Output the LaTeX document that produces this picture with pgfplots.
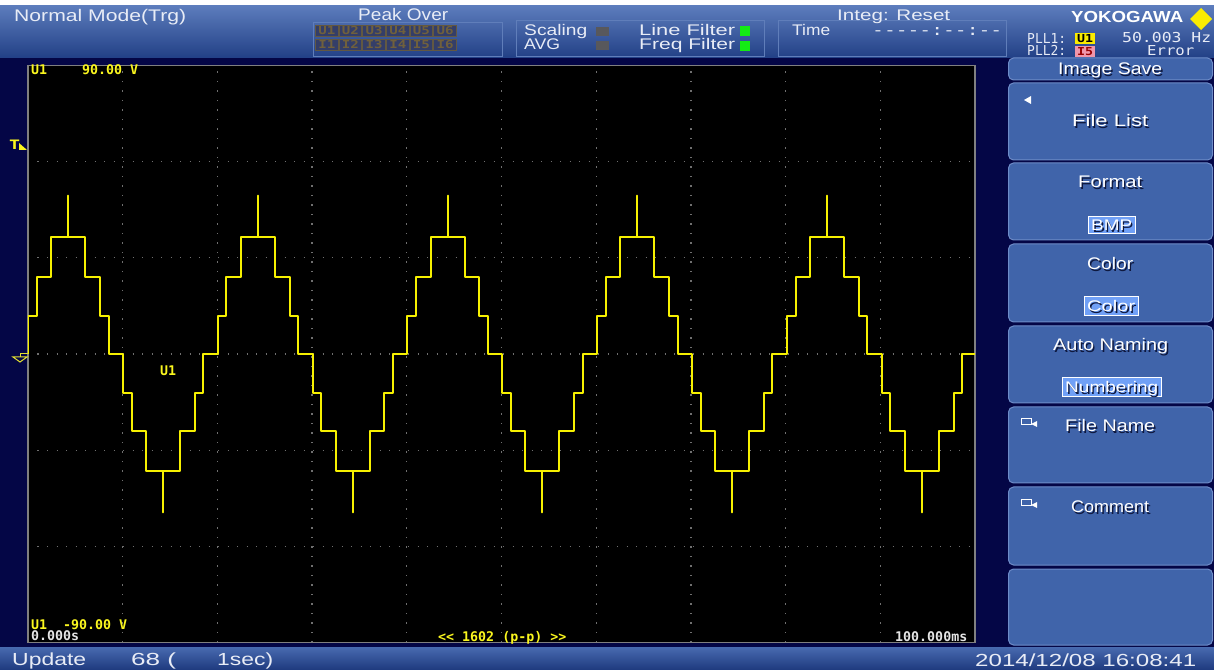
\documentclass[border=0pt]{standalone}
\usepackage{fontspec}
\setmainfont{Liberation Sans}
\newfontfamily\mono{DejaVu Sans Mono}
\usepackage{graphicx}
\usepackage{pgfplots}
\pgfplotsset{compat=1.18}

\definecolor{navy}{RGB}{4,6,70}
\definecolor{barTop}{RGB}{92,124,188}
\definecolor{barBot}{RGB}{34,64,134}
\definecolor{stTop}{RGB}{72,106,176}
\definecolor{stBot}{RGB}{32,60,128}
\definecolor{btnFill}{RGB}{64,100,170}
\definecolor{btnEdge}{RGB}{110,140,200}
\definecolor{valFill}{RGB}{112,160,246}
\definecolor{shadowC}{RGB}{14,24,62}
\definecolor{trace}{RGB}{246,240,0}
\definecolor{lblY}{RGB}{250,246,30}
\definecolor{lblW}{RGB}{228,228,228}
\definecolor{gridC}{RGB}{112,112,112}
\definecolor{frameC}{RGB}{128,128,128}
\definecolor{sepC}{RGB}{96,126,186}
\definecolor{indFill}{RGB}{52,62,104}
\definecolor{indEdge}{RGB}{98,88,66}
\definecolor{indText}{RGB}{112,96,60}
\definecolor{offC}{RGB}{88,88,92}
\definecolor{onC}{RGB}{20,235,20}
\definecolor{barText}{RGB}{232,236,246}
\definecolor{pllY}{RGB}{250,236,0}
\definecolor{pllP}{RGB}{240,150,170}

% text stretched to a given width: width, size, text
\newcommand\fw[3]{\resizebox{#1pt}{\height}{\fontsize{#2}{#2}\selectfont #3}}
% colour, x, baseline, width, size, text
\newcommand\txt[6]{\node[anchor=base west,inner sep=0pt,text=#1] at (#2,#3) {\fw{#4}{#5}{#6}};}
% white menu text with a drop shadow
\newcommand\btxt[5]{\txt{shadowC}{#1+1.4}{#2+1.4}{#3}{#4}{#5}\txt{white}{#1}{#2}{#3}{#4}{#5}}
% soft key frame
\newcommand\key[2]{\draw[btnEdge,fill=btnFill,line width=1pt,rounded corners=5pt] (1008.5,#1) rectangle (1212.5,#2);}
% selected value box
\newcommand\val[4]{\draw[white,fill=valFill,line width=1pt] (#1,#2) rectangle (#3,#4);}
% bold monospaced trace annotation
\newcommand\lab[4]{\node[anchor=base west,inner sep=0pt,text=#1] at (#2,#3) {\mono\bfseries\fontsize{13.3}{14}\selectfont #4};}

\begin{document}
\begin{tikzpicture}[x=1pt,y=1pt]
% screen background and bars
\fill[white] (0,0) rectangle (1214,669);
\fill[navy] (0,0) rectangle (1214,663);
\shade[top color=barTop,bottom color=barBot] (0,663) rectangle (1214,611);
\shade[top color=stTop,bottom color=stBot] (0,22) rectangle (1214,0);

\begin{scope}[yshift=669pt,yscale=-1]
  % status bar frames
  \draw[sepC,line width=0.8pt] (313,22) rectangle (502,56);
  \draw[sepC,line width=0.8pt] (516,20) rectangle (764,56);
  \draw[sepC,line width=0.8pt] (778,20) rectangle (1006,56);
  % status bar texts
  \txt{barText}{14}{22}{172}{16.8}{Normal Mode(Trg)}
  \txt{barText}{358}{21}{90}{16.8}{Peak Over}
  \foreach \i in {1,...,6}{
    \pgfmathsetmacro\xa{315+23.67*(\i-1)}
    \draw[indEdge,fill=indFill,line width=0.8pt] (\xa+0.5,25) rectangle (\xa+23,36);
    \draw[indEdge,fill=indFill,line width=0.8pt] (\xa+0.5,39) rectangle (\xa+23,50);
    \node[inner sep=0pt,text=indText] at (\xa+11.8,30.5) {\fw{17}{11}{\mono\bfseries U\i}};
    \node[inner sep=0pt,text=indText] at (\xa+11.8,44.5) {\fw{17}{11}{\mono\bfseries I\i}};
  }
  \txt{barText}{524}{36}{63}{15.4}{Scaling}
  \txt{barText}{524}{50}{36}{15.4}{AVG}
  \fill[offC] (596,27) rectangle (609,36);
  \fill[offC] (596,41) rectangle (609,50);
  \txt{barText}{639}{36}{96}{15.4}{Line Filter}
  \txt{barText}{639}{50}{96}{15.4}{Freq Filter}
  \fill[onC] (740,26) rectangle (750,36);
  \fill[onC] (740,41) rectangle (750,51);
  \txt{barText}{792}{36}{38}{15.4}{Time}
  \txt{barText}{837}{21}{113}{15.4}{Integ: Reset}
  \txt{barText}{872}{36}{130}{15.4}{\mono -\kern0pt-\kern0pt-\kern0pt-\kern0pt-:-\kern0pt-:-\kern0pt-}
  \txt{white}{1071}{23}{112}{16}{\bfseries YOKOGAWA}
  \fill[pllY] (1201,8) -- (1212,19) -- (1201,30) -- (1190,19) -- cycle;
  \txt{barText}{1027}{44}{39}{13.7}{\mono PLL1:}
  \txt{barText}{1027}{56}{39}{13.7}{\mono PLL2:}
  \fill[pllY] (1075,33) rectangle (1095,44);
  \fill[pllP] (1075,46) rectangle (1095,57);
  \node[inner sep=0pt,text=black] at (1085,38.5) {\fw{16}{11}{\mono\bfseries U1}};
  \node[inner sep=0pt,text=red!60!black] at (1085,51.5) {\fw{16}{11}{\mono\bfseries I5}};
  \txt{barText}{1122}{43}{89}{13.7}{\mono 50.003 Hz}
  \txt{barText}{1147}{56}{47}{13.7}{\mono Error}
  % bottom status line
  \txt{barText}{12}{665}{74}{17.5}{Update}
  \txt{barText}{131}{665}{45}{17.5}{68 (}
  \txt{barText}{217}{665}{56}{17.5}{1sec)}
  \txt{barText}{975}{666}{221}{17.5}{2014/12/08 16:08:41}
  % soft keys
  \key{58}{80}\key{83}{160}\key{163}{240}\key{244}{322}
  \key{326}{403}\key{407}{483}\key{487}{565}\key{569}{645}
  \btxt{1058}{75}{104}{16.8}{Image Save}
  \btxt{1072}{127}{76}{16.8}{File List}
  \fill[white] (1024,100) -- (1031,96) -- (1031,104) -- cycle;
  \btxt{1078}{188}{64}{16.8}{Format}
  \val{1088}{217}{1135}{234}
  \btxt{1091}{231}{41}{15.4}{BMP}
  \btxt{1087}{270}{46}{16.8}{Color}
  \val{1084}{297}{1138}{316}
  \btxt{1087}{312}{48}{15.4}{Color}
  \btxt{1053}{351}{115}{16.8}{Auto Naming}
  \val{1062}{378}{1161}{397}
  \btxt{1065}{393}{93}{15.4}{Numbering}
  \btxt{1065}{432}{90}{16.8}{File Name}
  \btxt{1071}{513}{78}{16.8}{Comment}
  \foreach \yy in {419,500}{
    \draw[white,line width=1pt] (1021,\yy) rectangle (1031,\yy+6);
    \fill[white] (1031,\yy+5) -- (1037,\yy+2) -- (1037,\yy+8) -- cycle;
  }
\end{scope}

% waveform window: 10 ms and 30 V per division
\begin{axis}[
  at={(28pt,26.3pt)}, anchor=south west,
  scale only axis, width=947pt, height=577.3pt,
  xmin=0, xmax=100, ymin=-90, ymax=90,
  xtick={0,10,...,100}, ytick={-90,-60,...,90},
  xticklabels={}, yticklabels={}, major tick length=0pt,
  grid=major,
  major grid style={draw=gridC, line width=1.3pt, dash pattern=on 1.3pt off 8.2pt},
  axis line style={draw=frameC, line width=1.4pt},
  axis background/.style={fill=black},
]
\addplot[const plot, draw=trace, line width=2pt, line join=round] coordinates {
  (0,0) (0,12) (0.93,24) (2.46,36.6) (4.26,49.4) (4.26,36.6) (6.06,24) (7.60,12) (8.52,0)
  (10.03,-12) (10.94,-24) (12.45,-36.6) (14.26,-49.4) (14.26,-36.6) (16.06,-24) (17.61,-12) (18.50,0)
  (20.03,12) (20.96,24) (22.49,36.6) (24.29,49.4) (24.29,36.6) (26.09,24) (27.63,12) (28.55,0)
  (30.06,-12) (30.97,-24) (32.48,-36.6) (34.29,-49.4) (34.29,-36.6) (36.09,-24) (37.64,-12) (38.53,0)
  (40.06,12) (40.99,24) (42.52,36.6) (44.32,49.4) (44.32,36.6) (46.12,24) (47.66,12) (48.58,0)
  (50.09,-12) (51.00,-24) (52.51,-36.6) (54.32,-49.4) (54.32,-36.6) (56.12,-24) (57.67,-12) (58.56,0)
  (60.09,12) (61.02,24) (62.55,36.6) (64.35,49.4) (64.35,36.6) (66.15,24) (67.69,12) (68.61,0)
  (70.12,-12) (71.03,-24) (72.54,-36.6) (74.35,-49.4) (74.35,-36.6) (76.15,-24) (77.70,-12) (78.59,0)
  (80.12,12) (81.05,24) (82.58,36.6) (84.38,49.4) (84.38,36.6) (86.18,24) (87.72,12) (88.64,0)
  (90.15,-12) (91.06,-24) (92.57,-36.6) (94.38,-49.4) (94.38,-36.6) (96.18,-24) (97.73,-12) (98.62,0)
  (100,0)
};
\end{axis}

\begin{scope}[yshift=669pt,yscale=-1]
  % scale and time annotations
  \lab{lblY}{31}{75}{U1}
  \lab{lblY}{82}{75}{90.00 V}
  \lab{lblY}{31}{629}{U1}
  \lab{lblY}{63}{629}{-90.00 V}
  \lab{lblW}{31}{640}{0.000s}
  \lab{lblY}{438}{641}{<\kern0pt< 1602 (p-p) >\kern0pt>}
  \lab{lblW}{895}{641}{100.000ms}
  \lab{lblY}{160}{376}{U1}
  % trigger level marker
  \node[anchor=base west,inner sep=0pt,text=lblY] at (9,150) {\fw{11}{13}{\mono\bfseries T}};
  \fill[lblY] (19,143) -- (19,150) -- (27,150) -- cycle;
  % ground level marker
  \draw[lblY!80!gray,line width=1pt] (28,353.5) -- (20,353.5) -- (20,357);
  \draw[lblY!80!gray,line width=1pt] (13,357) -- (27,357) -- (20,362) -- cycle;
\end{scope}
\end{tikzpicture}
\end{document}
